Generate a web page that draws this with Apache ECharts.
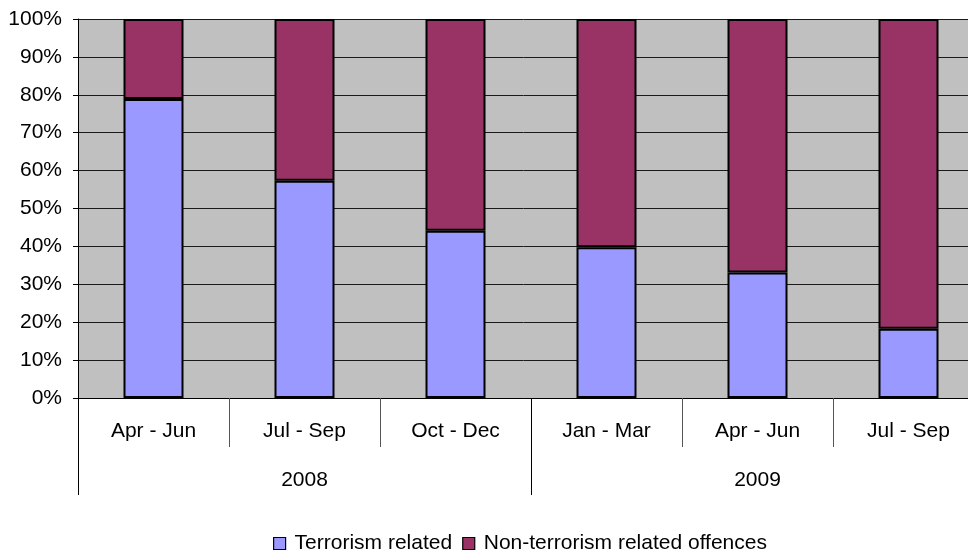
<!DOCTYPE html>
<html>
<head>
<meta charset="utf-8">
<script src="https://cdn.jsdelivr.net/npm/echarts@6/dist/echarts.min.js"></script>
<style>
html,body{margin:0;padding:0;background:#fff;}
#main{width:968px;height:555px;}
</style>
</head>
<body>
<div id="main"></div>
<script>
var quarters = ['Apr - Jun','Jul - Sep','Oct - Dec','Jan - Mar','Apr - Jun','Jul - Sep'];
var years = ['2008','2009'];
var terrorism = [78.9, 57.3, 44.1, 39.8, 33.1, 18.3];
var nonTerrorism = [21.1, 42.7, 55.9, 60.2, 66.9, 81.7];
var yTicks = [0,10,20,30,40,50,60,70,80,90,100];

var chart = echarts.init(document.getElementById('main'));
var font = 'Liberation Sans, Arial, sans-serif';
chart.setOption({
  animation: false,
  textStyle: {fontFamily: font},
  grid: {left: 78, top: 19, right: -16, bottom: 157, containLabel: false, outerBoundsMode: 'none',
         show: true, backgroundColor: '#C0C0C0', borderWidth: 0},
  legend: {
    top: 528, left: 268, icon: 'rect', itemWidth: 12, itemHeight: 12, itemGap: 10,
    textStyle: {fontSize: 21, color: '#000', fontFamily: font, padding: [0, 0, 0, 4]},
    itemStyle: {borderColor: '#000', borderWidth: 1.2},
    data: ['Terrorism related', 'Non-terrorism related offences']
  },
  xAxis: [{
    type: 'category', data: quarters, position: 'bottom',
    axisLine: {lineStyle: {color: '#000', width: 1}},
    axisTick: {show: true, interval: 0, length: 49, lineStyle: {color: '#555'}},
    axisLabel: {interval: 0, margin: 23, fontSize: 21, color: '#000', fontFamily: font}
  }, {
    type: 'category', data: years, position: 'bottom', gridIndex: 0,
    axisLine: {show: false},
    axisTick: {show: true, interval: 0, length: 97, lineStyle: {color: '#000'}},
    axisLabel: {interval: 0, margin: 72, fontSize: 21, color: '#000', fontFamily: font}
  }],
  yAxis: {
    type: 'value', min: yTicks[0], max: yTicks[yTicks.length-1], interval: 10,
    axisLine: {show: true, lineStyle: {color: '#000'}},
    axisTick: {show: true, length: 5, lineStyle: {color: '#000'}},
    axisLabel: {formatter: '{value}%', fontSize: 21, color: '#000', margin: 16, fontFamily: font},
    splitLine: {show: true, lineStyle: {color: '#1a1a1a', width: 1}}
  },
  series: [{
    name: 'Terrorism related', type: 'bar', stack: 's', xAxisIndex: 0, barWidth: 60,
    data: terrorism,
    itemStyle: {color: '#9999FF', borderColor: '#000', borderWidth: 2}
  }, {
    name: 'Non-terrorism related offences', type: 'bar', stack: 's', xAxisIndex: 0, barWidth: 60,
    data: nonTerrorism,
    itemStyle: {color: '#993366', borderColor: '#000', borderWidth: 2}
  }]
});
</script>
</body>
</html>
